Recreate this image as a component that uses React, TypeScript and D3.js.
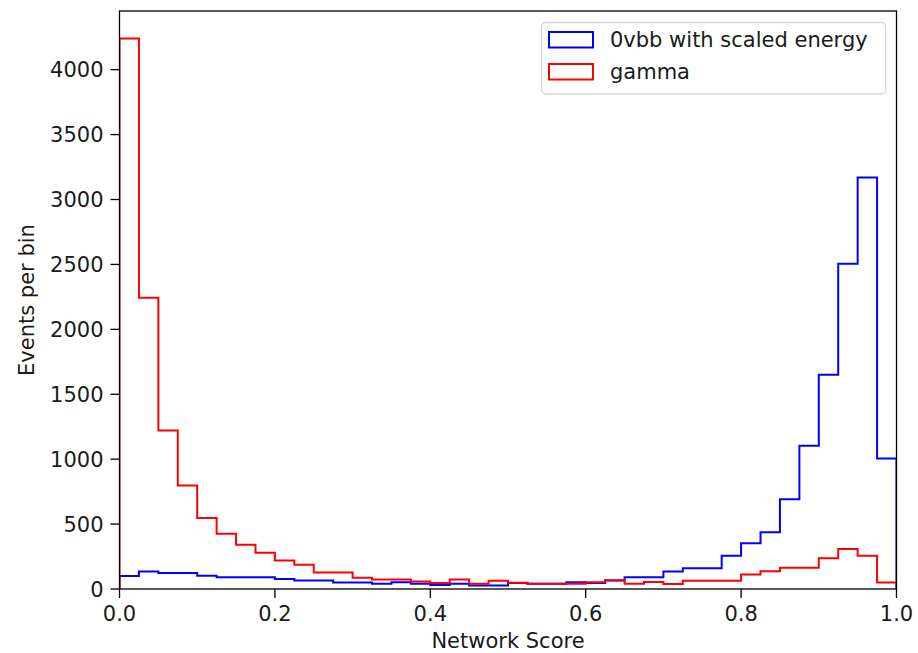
import React from "react";
import * as d3 from "d3";

// Histogram of network scores: 40 bins over [0, 1]
const binEdges: number[] = d3.range(0, 41).map((i) => i / 40);

const signalCounts: number[] = [
  100, 135, 123, 123, 102, 90, 90, 90, 77, 65,
  65, 50, 50, 41, 52, 41, 30, 41, 27, 27,
  46, 41, 41, 52, 46, 65, 91, 91, 135, 160,
  160, 256, 353, 438, 692, 1103, 1651, 2505, 3170, 1005,
];

const gammaCounts: number[] = [
  4240, 2244, 1221, 798, 546, 426, 341, 279, 220, 187,
  127, 127, 86, 73, 73, 58, 47, 74, 40, 64,
  49, 40, 40, 40, 52, 68, 40, 53, 38, 63,
  63, 63, 112, 137, 164, 164, 236, 308, 256, 51,
];

const seriesLabels: string[] = ["0vbb with scaled energy", "gamma"];
const seriesColors: string[] = ["#0000ff", "#ff0000"];

const xTicks: number[] = [0, 0.2, 0.4, 0.6, 0.8, 1.0];
const yTicks: number[] = [0, 500, 1000, 1500, 2000, 2500, 3000, 3500, 4000];

const W = 918;
const H = 653;
const left = 119.5;
const right = 896.5;
const top = 11;
const bottom = 589;
const FONT = "DejaVu Sans, sans-serif";
const TEXT = "#1a1a1a";
const FS = 21;

export default function App() {
  const x = d3.scaleLinear().domain([0, 1]).range([left, right]);
  const yMax = Math.max(...gammaCounts, ...signalCounts) * 1.05;
  const y = d3.scaleLinear().domain([0, yMax]).range([bottom, top]);

  const stepPoints = (counts: number[]): [number, number][] => {
    const pts: [number, number][] = [[binEdges[0], 0]];
    counts.forEach((c, i) => {
      pts.push([binEdges[i], c]);
      pts.push([binEdges[i + 1], c]);
    });
    pts.push([binEdges[binEdges.length - 1], 0]);
    return pts;
  };

  const line = d3
    .line<[number, number]>()
    .x((d) => x(d[0]))
    .y((d) => y(d[1]));

  const series = [signalCounts, gammaCounts];

  return (
    <svg
      width={W}
      height={H}
      style={{ position: "absolute", left: 0, top: 0, background: "#fff" }}
      fontFamily={FONT}
    >
      <defs>
        <clipPath id="plot-area">
          <rect x={left} y={top} width={right - left} height={bottom - top} />
        </clipPath>
      </defs>
      <rect x={0} y={0} width={W} height={H} fill="#fff" />

      <g clipPath="url(#plot-area)">
        {series.map((counts, i) => (
          <path
            key={i}
            d={line(stepPoints(counts)) || ""}
            fill="none"
            stroke={seriesColors[i]}
            strokeWidth={2}
            strokeLinejoin="miter"
          />
        ))}
      </g>

      {/* frame */}
      <rect
        x={left}
        y={top}
        width={right - left}
        height={bottom - top}
        fill="none"
        stroke="#000"
        strokeWidth={1.3}
      />

      {/* x ticks */}
      {xTicks.map((t) => (
        <g key={"x" + t}>
          <line x1={x(t)} x2={x(t)} y1={bottom} y2={bottom + 9} stroke="#000" strokeWidth={1.3} />
          <text
            x={x(t)}
            y={bottom + 32}
            textAnchor="middle"
            fontSize={FS}
            fill={TEXT}
          >
            {t.toFixed(1)}
          </text>
        </g>
      ))}

      {/* y ticks */}
      {yTicks.map((t) => (
        <g key={"y" + t}>
          <line x1={left - 9} x2={left} y1={y(t)} y2={y(t)} stroke="#000" strokeWidth={1.3} />
          <text
            x={left - 16}
            y={y(t)}
            dy="0.36em"
            textAnchor="end"
            fontSize={FS}
            fill={TEXT}
          >
            {t}
          </text>
        </g>
      ))}

      <text
        x={(left + right) / 2}
        y={648}
        textAnchor="middle"
        fontSize={FS}
        fill={TEXT}
      >
        Network Score
      </text>
      <text
        transform={`translate(34, ${(top + bottom) / 2}) rotate(-90)`}
        textAnchor="middle"
        fontSize={FS}
        fill={TEXT}
      >
        Events per bin
      </text>

      {/* legend */}
      <g>
        <rect
          x={541.5}
          y={22.5}
          width={344}
          height={71.5}
          rx={4}
          fill="#fff"
          fillOpacity={0.8}
          stroke="#d6d6d6"
          strokeWidth={1.3}
        />
        {seriesLabels.map((label, i) => (
          <g key={label} transform={`translate(0, ${i * 32})`}>
            <rect
              x={549}
              y={32}
              width={44}
              height={15.5}
              fill="none"
              stroke={seriesColors[i]}
              strokeWidth={2}
            />
            <text x={610} y={39.5} dy="0.36em" fontSize={FS} fill={TEXT}>
              {label}
            </text>
          </g>
        ))}
      </g>
    </svg>
  );
}
